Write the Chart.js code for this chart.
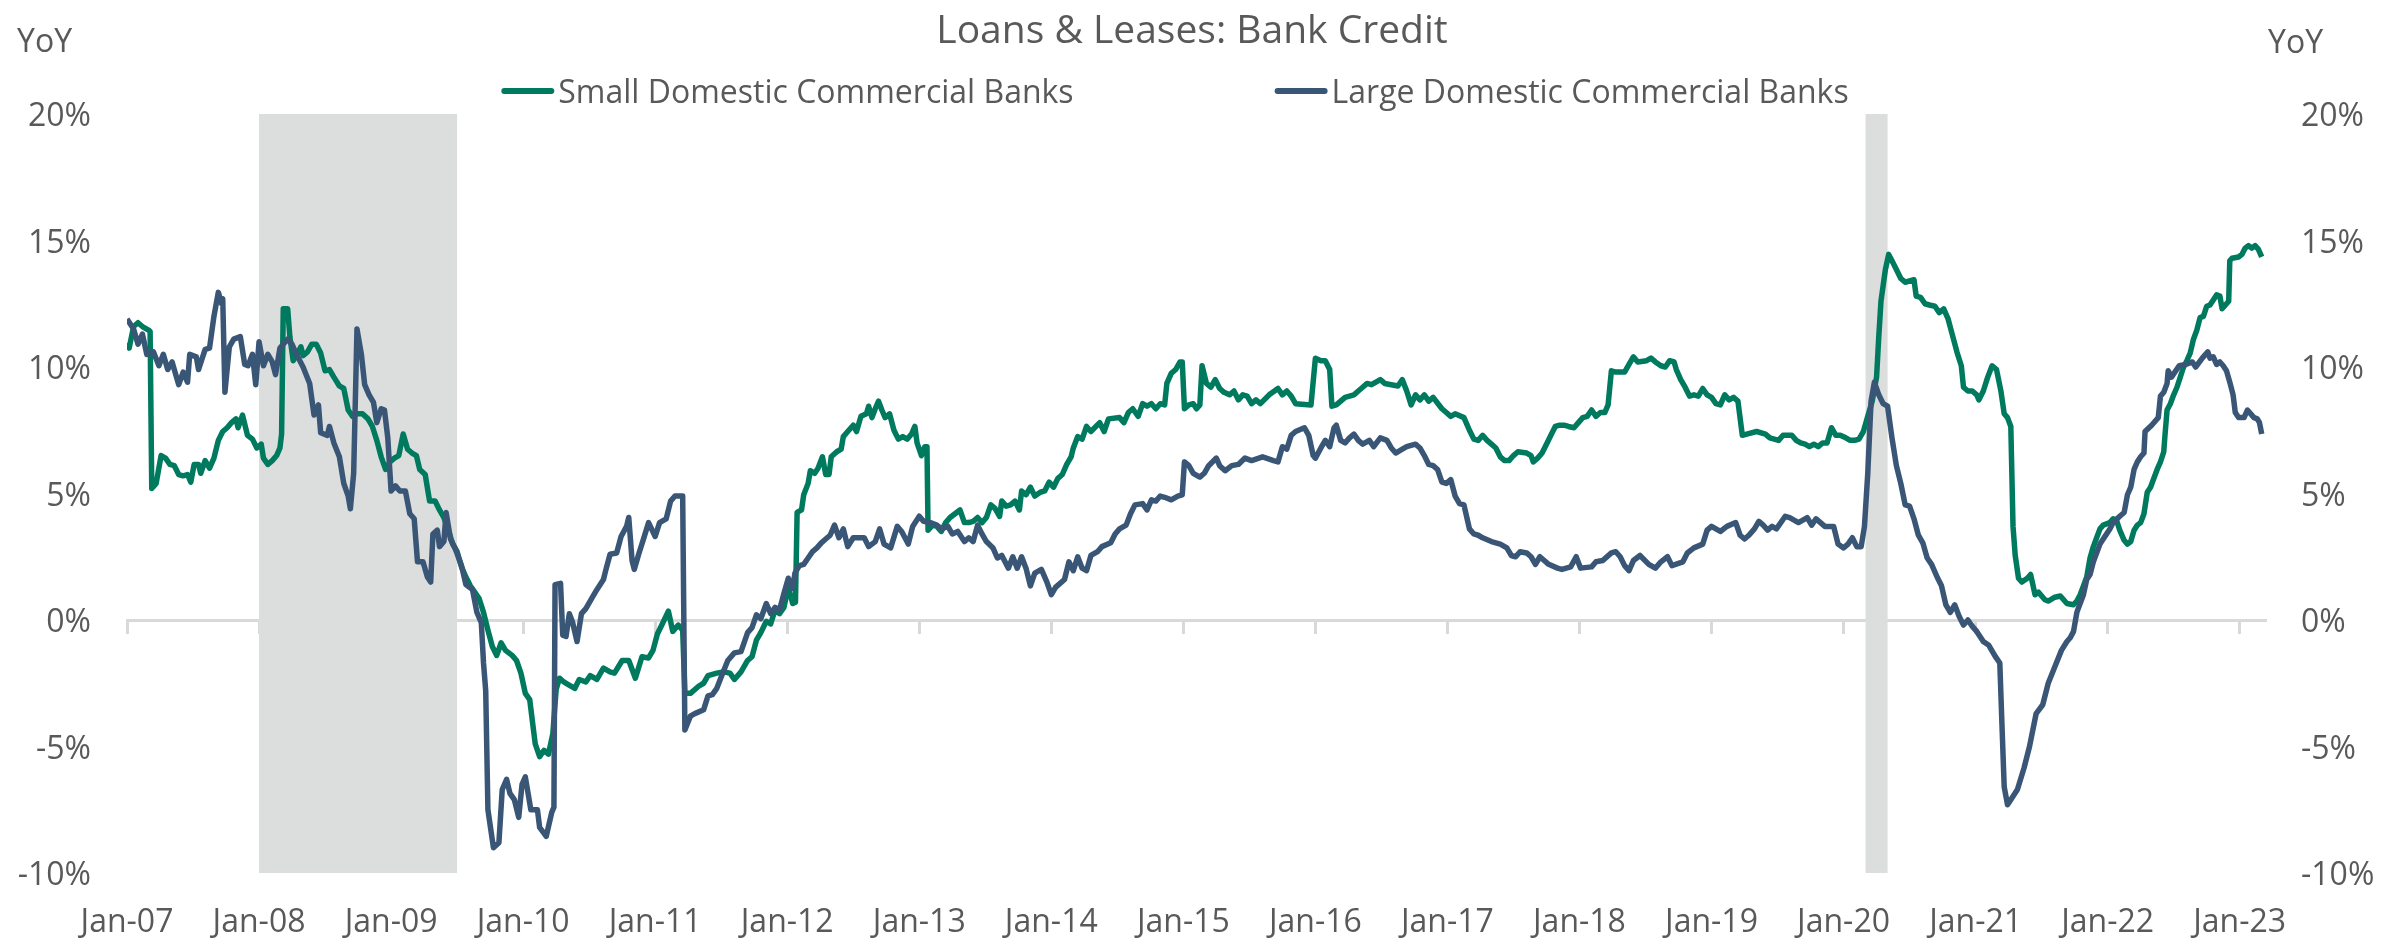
<!DOCTYPE html>
<html>
<head>
<meta charset="utf-8">
<title>Loans &amp; Leases: Bank Credit</title>
<script src="https://cdn.jsdelivr.net/npm/chart.js@4.4.0/dist/chart.umd.min.js"></script>
<style>
  html, body { margin: 0; padding: 0; background: #fff; }
  #quadro { width: 2384px; height: 940px; }
</style>
</head>
<body>
<div id="quadro"><canvas id="grafico" width="2384" height="940"></canvas></div>
<script>
// eixo x em meses desde jan/2007, valores em % a/a
var rotulosAno = ['Jan-07', 'Jan-08', 'Jan-09', 'Jan-10', 'Jan-11', 'Jan-12', 'Jan-13', 'Jan-14', 'Jan-15',
  'Jan-16', 'Jan-17', 'Jan-18', 'Jan-19', 'Jan-20', 'Jan-21', 'Jan-22', 'Jan-23'];
var mesesRotulo = [0, 12, 24, 36, 48, 60, 72, 84, 96, 108, 120, 132, 144, 156, 168, 180, 192];
var ultimoMes = 194.3;

// recessoes (inicio e fim, em meses)
var recessaoInicio = [12, 158];
var recessaoFim = [30, 160];

var bancosPequenos = [
  [0, 10.95], [0.2, 10.75], [0.6, 11.6], [1.0, 11.75], [1.4, 11.6], [2.0, 11.45], [2.1, 11.4], [2.25, 5.2], [2.65, 5.4],
  [3.1, 6.5], [3.5, 6.4], [3.9, 6.15], [4.3, 6.1], [4.7, 5.75], [5.1, 5.7], [5.5, 5.75], [5.8, 5.45], [6.1, 6.15],
  [6.5, 6.15], [6.7, 5.8], [7.1, 6.3], [7.5, 6.0], [7.9, 6.4], [8.3, 7.1], [8.7, 7.45], [9.1, 7.6], [9.5, 7.8],
  [9.9, 7.95], [10.1, 7.6], [10.5, 8.1], [10.95, 7.3], [11.4, 7.15], [11.8, 6.8], [12.2, 6.95], [12.4, 6.4], [12.8, 6.15],
  [13.2, 6.3], [13.6, 6.5], [13.9, 6.8], [14.05, 7.35], [14.2, 12.3], [14.6, 12.3], [14.8, 11.2], [15.1, 10.25],
  [15.4, 10.45], [15.8, 10.8], [16.0, 10.45], [16.4, 10.6], [16.8, 10.9], [17.2, 10.9], [17.6, 10.55], [18.0, 9.85],
  [18.4, 9.9], [18.8, 9.6], [19.3, 9.25], [19.7, 9.15], [20.1, 8.3], [20.5, 8.05], [20.9, 8.15], [21.4, 8.15],
  [21.9, 7.95], [22.3, 7.65], [22.7, 7.1], [23.1, 6.45], [23.5, 5.95], [23.9, 6.25], [24.3, 6.4], [24.7, 6.5],
  [25.1, 7.35], [25.5, 6.75], [25.9, 6.6], [26.3, 6.5], [26.6, 5.95], [27.1, 5.75], [27.5, 4.7], [28.0, 4.7],
  [28.4, 4.35], [28.8, 4.05], [29.2, 3.55], [29.6, 3.0], [30.0, 2.7], [30.4, 2.1], [30.8, 1.7], [31.2, 1.35],
  [31.6, 1.1], [32.0, 0.85], [32.4, 0.3], [32.8, -0.4], [33.2, -1.05], [33.6, -1.4], [34.0, -0.9], [34.4, -1.2],
  [35.0, -1.4], [35.4, -1.6], [35.8, -2.1], [36.2, -2.9], [36.6, -3.15], [37.1, -4.9], [37.5, -5.4], [37.9, -5.15],
  [38.3, -5.3], [38.7, -4.5], [39.0, -2.75], [39.3, -2.3], [39.7, -2.45], [40.1, -2.55], [40.7, -2.7], [41.1, -2.35],
  [41.7, -2.45], [42.1, -2.2], [42.7, -2.35], [43.3, -1.9], [43.9, -2.05], [44.3, -2.1], [45.0, -1.6], [45.6, -1.6],
  [46.2, -2.3], [46.8, -1.45], [47.4, -1.5], [47.8, -1.2], [48.2, -0.55], [48.6, -0.2], [49.2, 0.35], [49.6, -0.45],
  [50.1, -0.2], [50.5, -0.4], [50.7, -2.9], [51.2, -2.9], [52.0, -2.6], [52.4, -2.5], [52.8, -2.2], [53.6, -2.1],
  [54.2, -2.05], [54.8, -2.1], [55.2, -2.35], [55.8, -2.05], [56.4, -1.6], [56.8, -1.45], [57.2, -0.8], [57.6, -0.5],
  [58.1, -0.05], [58.5, -0.15], [58.9, 0.4], [59.3, 0.25], [59.7, 0.5], [60.1, 1.3], [60.5, 0.65], [60.75, 0.7],
  [60.9, 4.25], [61.3, 4.35], [61.5, 4.95], [61.9, 5.4], [62.1, 5.9], [62.5, 5.8], [62.8, 6.0], [63.2, 6.45],
  [63.5, 5.75], [63.8, 5.75], [64.0, 6.45], [64.5, 6.65], [64.9, 6.75], [65.1, 7.25], [65.5, 7.45], [66.0, 7.7],
  [66.3, 7.45], [66.7, 8.05], [67.2, 8.15], [67.4, 8.45], [67.7, 8.0], [68.0, 8.35], [68.3, 8.65], [68.6, 8.3],
  [68.9, 8.0], [69.3, 8.15], [69.7, 7.5], [70.1, 7.15], [70.5, 7.25], [70.9, 7.15], [71.3, 7.35], [71.6, 7.65],
  [71.8, 7.0], [72.2, 6.5], [72.5, 6.85], [72.7, 6.85], [72.8, 3.55], [73.2, 3.75], [73.6, 3.7], [74.0, 3.5],
  [74.4, 3.85], [74.8, 4.05], [75.7, 4.35], [76.1, 3.85], [76.5, 3.85], [76.9, 3.9], [77.3, 4.05], [77.7, 3.85],
  [78.1, 4.05], [78.5, 4.55], [78.9, 4.4], [79.3, 4.1], [79.5, 4.7], [79.9, 4.5], [80.3, 4.55], [80.7, 4.7],
  [81.1, 4.35], [81.3, 5.1], [81.7, 4.95], [82.1, 5.25], [82.5, 4.9], [83.0, 5.05], [83.4, 5.1], [83.8, 5.45],
  [84.2, 5.25], [84.6, 5.6], [85.0, 5.75], [85.4, 6.15], [85.8, 6.45], [86.0, 6.8], [86.4, 7.25], [86.8, 7.15],
  [87.2, 7.65], [87.6, 7.45], [88.4, 7.8], [88.8, 7.45], [89.2, 7.95], [90.2, 8.0], [90.6, 7.8], [91.0, 8.2],
  [91.4, 8.35], [91.9, 8.05], [92.3, 8.55], [92.7, 8.45], [93.1, 8.55], [93.5, 8.35], [93.9, 8.55], [94.3, 8.5],
  [94.5, 9.35], [94.9, 9.75], [95.3, 9.9], [95.7, 10.2], [95.9, 10.2], [96.1, 8.35], [96.5, 8.5], [96.9, 8.55],
  [97.2, 8.35], [97.5, 8.5], [97.7, 10.05], [98.1, 9.35], [98.5, 9.2], [98.9, 9.5], [99.3, 9.15], [99.7, 9.0],
  [100.2, 8.9], [100.6, 9.05], [101.0, 8.7], [101.4, 8.9], [101.8, 8.85], [102.2, 8.55], [102.6, 8.7], [103.0, 8.55],
  [103.8, 8.9], [104.6, 9.15], [105.0, 8.9], [105.4, 9.05], [105.8, 8.85], [106.2, 8.55], [107.6, 8.5], [108.0, 10.35],
  [108.5, 10.25], [108.9, 10.25], [109.3, 9.9], [109.5, 8.45], [109.9, 8.5], [110.7, 8.8], [111.5, 8.9], [111.9, 9.05],
  [112.3, 9.2], [112.7, 9.35], [113.1, 9.3], [113.9, 9.5], [114.3, 9.35], [115.5, 9.25], [115.9, 9.5], [116.3, 9.05],
  [116.7, 8.5], [117.1, 8.9], [117.5, 8.7], [117.9, 8.9], [118.3, 8.65], [118.7, 8.8], [119.5, 8.35], [119.9, 8.2],
  [120.3, 8.05], [120.7, 8.15], [121.5, 8.0], [122.0, 7.5], [122.4, 7.15], [122.8, 7.1], [123.2, 7.3], [123.6, 7.1],
  [124.0, 6.95], [124.4, 6.8], [124.8, 6.45], [125.2, 6.3], [125.6, 6.3], [126.0, 6.5], [126.4, 6.65], [127.2, 6.6],
  [127.6, 6.5], [127.8, 6.25], [128.2, 6.4], [128.6, 6.6], [129.0, 6.95], [129.4, 7.3], [129.8, 7.65], [130.2, 7.7],
  [130.6, 7.7], [131.0, 7.65], [131.5, 7.6], [131.9, 7.8], [132.3, 8.0], [132.7, 8.05], [133.1, 8.3], [133.5, 8.05],
  [133.9, 8.2], [134.3, 8.2], [134.6, 8.5], [134.9, 9.85], [135.3, 9.8], [136.1, 9.8], [136.5, 10.1], [136.9, 10.4],
  [137.3, 10.2], [138.1, 10.25], [138.5, 10.35], [138.9, 10.2], [139.4, 10.05], [139.8, 10.0], [140.2, 10.25],
  [140.6, 10.2], [140.8, 9.9], [141.2, 9.5], [141.6, 9.2], [142.0, 8.85], [142.4, 8.9], [142.8, 8.85], [143.2, 9.15],
  [143.6, 8.9], [144.0, 8.8], [144.4, 8.55], [144.8, 8.5], [145.2, 8.9], [145.6, 8.7], [146.0, 8.8], [146.4, 8.65],
  [146.8, 7.3], [147.2, 7.35], [148.1, 7.45], [148.9, 7.35], [149.3, 7.2], [149.7, 7.15], [150.1, 7.1], [150.5, 7.3],
  [151.3, 7.3], [151.7, 7.1], [152.1, 7.0], [152.5, 6.95], [152.9, 6.85], [153.3, 6.95], [153.7, 6.85], [154.1, 7.0],
  [154.5, 7.0], [154.9, 7.6], [155.3, 7.3], [155.7, 7.3], [156.2, 7.2], [156.6, 7.1], [157.0, 7.1], [157.4, 7.15],
  [157.8, 7.45], [158.2, 8.05], [158.6, 8.65], [159.0, 9.6], [159.2, 11.2], [159.4, 12.6], [159.8, 13.85], [160.1, 14.45],
  [160.4, 14.2], [160.8, 13.85], [161.2, 13.5], [161.6, 13.35], [162.4, 13.45], [162.6, 12.8], [163.0, 12.75],
  [163.4, 12.5], [163.8, 12.45], [164.3, 12.4], [164.7, 12.15], [165.1, 12.3], [165.5, 11.9], [165.9, 11.25],
  [166.3, 10.6], [166.7, 10.05], [166.9, 9.2], [167.3, 9.05], [167.7, 9.05], [168.1, 8.9], [168.3, 8.7], [168.7, 9.05],
  [169.1, 9.6], [169.5, 10.05], [169.9, 9.9], [170.3, 9.05], [170.6, 8.15], [170.9, 8.0], [171.2, 7.65], [171.4, 3.7],
  [171.6, 2.55], [171.9, 1.65], [172.2, 1.5], [172.7, 1.65], [173.0, 1.8], [173.4, 1.0], [173.7, 1.1], [174.3, 0.8],
  [174.6, 0.75], [175.2, 0.9], [175.7, 0.95], [176.3, 0.65], [176.9, 0.6], [177.2, 0.75], [177.5, 1.0], [177.8, 1.35],
  [178.1, 1.7], [178.4, 2.45], [178.7, 2.9], [179.0, 3.25], [179.3, 3.6], [179.6, 3.75], [180.2, 3.85], [180.5, 4.0],
  [180.8, 3.95], [181.1, 3.55], [181.5, 3.15], [181.8, 3.0], [182.1, 3.1], [182.4, 3.55], [182.7, 3.75], [183.0, 3.85],
  [183.3, 4.2], [183.6, 5.05], [183.9, 5.25], [184.2, 5.6], [184.5, 5.95], [184.8, 6.25], [185.1, 6.65], [185.2, 7.25],
  [185.4, 8.3], [185.7, 8.55], [186.0, 8.9], [186.3, 9.2], [186.6, 9.6], [186.9, 10.0], [187.2, 10.25], [187.5, 10.55],
  [187.8, 11.1], [188.1, 11.45], [188.4, 11.95], [188.7, 12.0], [189.0, 12.4], [189.3, 12.45], [189.6, 12.65],
  [189.9, 12.85], [190.2, 12.8], [190.4, 12.3], [190.7, 12.45], [191.0, 12.6], [191.1, 14.2], [191.3, 14.3],
  [191.9, 14.35], [192.2, 14.45], [192.5, 14.7], [192.8, 14.8], [193.1, 14.7], [193.4, 14.8], [193.7, 14.65], [194.0, 14.35]
];

var bancosGrandes = [
  [0, 11.9], [0.6, 11.5], [1.0, 10.9], [1.4, 11.3], [1.8, 10.5], [2.4, 10.6], [2.9, 10.05], [3.3, 10.5], [3.7, 9.9],
  [4.1, 10.2], [4.7, 9.3], [5.1, 9.8], [5.5, 9.4], [5.7, 10.5], [6.3, 10.4], [6.5, 9.9], [7.1, 10.7], [7.5, 10.75],
  [7.9, 12.0], [8.3, 12.95], [8.6, 12.5], [8.7, 12.7], [8.9, 9.0], [9.3, 10.8], [9.7, 11.1], [10.3, 11.2], [10.7, 10.1],
  [11.0, 10.05], [11.4, 10.5], [11.7, 9.3], [12.0, 11.0], [12.4, 10.05], [12.8, 10.5], [13.2, 10.2], [13.5, 9.7],
  [13.9, 10.75], [14.6, 11.1], [15.0, 10.9], [15.4, 10.5], [16.0, 10.0], [16.6, 9.35], [17.0, 8.1], [17.4, 8.5],
  [17.6, 7.4], [18.2, 7.3], [18.4, 7.65], [18.8, 7.0], [19.3, 6.45], [19.7, 5.4], [20.1, 4.9], [20.3, 4.4], [20.6, 5.8],
  [20.9, 11.5], [21.3, 10.5], [21.6, 9.3], [22.0, 8.9], [22.4, 8.6], [22.7, 7.8], [23.1, 8.35], [23.4, 8.3], [23.7, 7.2],
  [24.0, 5.1], [24.4, 5.3], [24.8, 5.1], [25.3, 5.1], [25.7, 4.2], [26.1, 4.0], [26.4, 2.3], [26.9, 2.3], [27.3, 1.7],
  [27.6, 1.5], [27.8, 3.4], [28.2, 3.55], [28.4, 2.9], [28.8, 3.1], [29.0, 4.25], [29.4, 3.2], [29.8, 2.85], [30.4, 2.15],
  [30.8, 1.4], [31.4, 1.2], [31.8, 0.3], [32.2, -0.1], [32.4, -1.7], [32.6, -2.8], [32.8, -7.5], [33.3, -9.0],
  [33.8, -8.8], [34.1, -6.7], [34.5, -6.3], [34.8, -6.85], [35.2, -7.1], [35.6, -7.8], [35.9, -6.5], [36.2, -6.2],
  [36.7, -7.5], [37.3, -7.5], [37.5, -8.2], [38.1, -8.55], [38.6, -7.6], [38.8, -7.4], [38.9, 1.4], [39.4, 1.45],
  [39.6, -0.6], [39.9, -0.65], [40.2, 0.25], [40.5, -0.1], [40.9, -0.85], [41.3, 0.25], [41.7, 0.45], [42.3, 0.9],
  [42.7, 1.2], [43.3, 1.6], [43.5, 1.95], [43.9, 2.6], [44.5, 2.65], [44.9, 3.3], [45.4, 3.7], [45.6, 4.05], [45.9, 2.35],
  [46.1, 2.0], [46.5, 2.6], [46.9, 3.15], [47.4, 3.85], [48.0, 3.3], [48.4, 3.85], [49.0, 4.0], [49.4, 4.7], [49.8, 4.9],
  [50.5, 4.9], [50.7, -4.35], [51.2, -3.8], [51.6, -3.7], [52.4, -3.55], [52.8, -3.0], [53.2, -2.95], [53.6, -2.7],
  [54.0, -2.25], [54.6, -1.6], [55.2, -1.3], [55.8, -1.25], [56.4, -0.5], [56.8, -0.3], [57.2, 0.2], [57.6, 0.05],
  [58.1, 0.65], [58.5, 0.25], [58.9, 0.5], [59.3, 0.4], [59.7, 1.05], [60.1, 1.65], [60.5, 1.25], [60.7, 1.85],
  [61.1, 2.15], [61.5, 2.2], [61.9, 2.45], [62.3, 2.7], [62.7, 2.85], [63.1, 3.05], [63.5, 3.2], [63.9, 3.35],
  [64.3, 3.75], [64.7, 3.25], [65.1, 3.6], [65.5, 2.9], [66.0, 3.25], [67.0, 3.25], [67.4, 2.9], [68.0, 3.1], [68.4, 3.6],
  [68.8, 3.0], [69.4, 2.85], [70.0, 3.7], [70.4, 3.5], [71.0, 3.0], [71.4, 3.7], [72.0, 4.1], [72.4, 3.9], [73.0, 3.85],
  [73.6, 3.75], [74.0, 3.6], [74.6, 3.7], [75.0, 3.4], [75.5, 3.5], [76.1, 3.1], [76.5, 3.25], [76.9, 3.1], [77.3, 3.75],
  [77.7, 3.4], [78.1, 3.1], [78.7, 2.85], [79.1, 2.45], [79.5, 2.55], [80.1, 2.05], [80.5, 2.5], [80.9, 2.05], [81.3, 2.5],
  [81.7, 2.05], [82.1, 1.35], [82.5, 1.85], [83.1, 2.0], [83.6, 1.5], [84.0, 1.0], [84.4, 1.3], [84.8, 1.45], [85.2, 1.6],
  [85.6, 2.3], [86.0, 1.95], [86.4, 2.5], [86.8, 2.05], [87.2, 1.95], [87.6, 2.55], [88.2, 2.7], [88.6, 2.9], [89.4, 3.05],
  [89.8, 3.4], [90.2, 3.6], [90.8, 3.75], [91.2, 4.2], [91.6, 4.55], [92.3, 4.6], [92.7, 4.35], [93.1, 4.75], [93.5, 4.7],
  [93.9, 4.9], [94.3, 4.85], [94.9, 4.75], [95.5, 4.9], [95.9, 4.95], [96.1, 6.25], [96.5, 6.1], [96.9, 5.8], [97.5, 5.65],
  [97.9, 5.8], [98.3, 6.1], [99.0, 6.4], [99.3, 6.1], [99.8, 5.9], [100.4, 6.1], [101.0, 6.15], [101.6, 6.4], [102.2, 6.3],
  [103.2, 6.45], [104.2, 6.3], [104.6, 6.25], [105.0, 6.85], [105.4, 6.75], [105.8, 7.3], [106.2, 7.45], [107.0, 7.6],
  [107.4, 7.3], [107.8, 6.5], [108.0, 6.4], [108.5, 6.8], [108.9, 7.1], [109.3, 6.85], [109.7, 7.6], [109.9, 7.7],
  [110.3, 7.1], [110.7, 7.0], [111.1, 7.2], [111.5, 7.35], [111.9, 7.1], [112.3, 6.95], [112.9, 7.1], [113.3, 6.85],
  [113.9, 7.2], [114.5, 7.1], [114.9, 6.8], [115.3, 6.6], [115.9, 6.75], [116.3, 6.85], [117.1, 6.95], [117.5, 6.8],
  [117.9, 6.5], [118.3, 6.15], [118.7, 6.1], [119.1, 5.95], [119.5, 5.45], [119.9, 5.4], [120.3, 5.55], [120.7, 4.9],
  [121.1, 4.6], [121.5, 4.55], [122.0, 3.6], [122.4, 3.4], [122.8, 3.35], [123.2, 3.25], [124.0, 3.1], [124.8, 3.0],
  [125.4, 2.85], [125.8, 2.55], [126.2, 2.5], [126.6, 2.7], [127.2, 2.65], [127.6, 2.5], [128.0, 2.2], [128.4, 2.5],
  [129.2, 2.2], [130.0, 2.05], [130.4, 2.0], [131.2, 2.1], [131.7, 2.5], [132.1, 2.05], [133.1, 2.1], [133.5, 2.3],
  [134.1, 2.35], [134.9, 2.65], [135.3, 2.7], [135.7, 2.5], [136.1, 2.15], [136.5, 1.95], [136.9, 2.35], [137.5, 2.55],
  [138.3, 2.2], [138.9, 2.05], [139.4, 2.3], [140.0, 2.5], [140.4, 2.15], [141.4, 2.3], [141.8, 2.65], [142.4, 2.85],
  [143.2, 3.0], [143.6, 3.55], [144.0, 3.7], [144.8, 3.5], [145.4, 3.7], [146.2, 3.85], [146.6, 3.35], [147.0, 3.2],
  [147.4, 3.35], [147.9, 3.6], [148.3, 3.9], [148.7, 3.75], [149.1, 3.55], [149.5, 3.7], [149.9, 3.6], [150.7, 4.1],
  [151.1, 4.05], [151.9, 3.85], [152.7, 4.05], [153.1, 3.75], [153.5, 4.0], [154.3, 3.7], [155.1, 3.7], [155.5, 3.0],
  [156.0, 2.85], [156.4, 3.0], [156.8, 3.25], [157.2, 2.9], [157.6, 2.9], [157.9, 3.7], [158.2, 5.8], [158.5, 8.65],
  [158.8, 9.4], [159.2, 8.9], [159.6, 8.55], [160.0, 8.45], [160.4, 7.2], [160.8, 6.1], [161.2, 5.4], [161.6, 4.55],
  [162.0, 4.5], [162.4, 4.0], [162.8, 3.35], [163.2, 3.05], [163.6, 2.45], [164.0, 2.2], [164.5, 1.7], [164.9, 1.35],
  [165.3, 0.6], [165.7, 0.3], [166.1, 0.6], [166.5, 0.15], [166.9, -0.2], [167.3, 0.0], [167.7, -0.25], [168.1, -0.45],
  [168.7, -0.85], [169.2, -1.0], [169.8, -1.45], [170.2, -1.7], [170.4, -4.2], [170.6, -6.6], [170.9, -7.3], [171.2, -7.1],
  [171.8, -6.7], [172.4, -5.85], [172.9, -5.0], [173.5, -3.7], [174.1, -3.35], [174.6, -2.5], [175.2, -1.85], [175.8, -1.2],
  [176.3, -0.85], [176.6, -0.7], [176.9, -0.45], [177.2, 0.3], [177.5, 0.65], [177.8, 1.0], [178.1, 1.6], [178.4, 1.8],
  [178.7, 2.3], [179.0, 2.65], [179.3, 3.0], [179.6, 3.2], [179.9, 3.4], [180.2, 3.6], [180.5, 3.85], [181.1, 4.1],
  [181.5, 4.25], [181.8, 4.95], [182.1, 5.25], [182.4, 5.95], [182.7, 6.25], [183.0, 6.45], [183.3, 6.6], [183.4, 7.45],
  [184.0, 7.7], [184.6, 8.0], [184.8, 8.85], [185.1, 9.0], [185.4, 9.35], [185.5, 9.85], [185.8, 9.6], [186.5, 10.05],
  [187.1, 10.1], [187.7, 10.2], [188.0, 10.0], [188.6, 10.35], [189.1, 10.6], [189.3, 10.35], [189.6, 10.4], [189.9, 10.1],
  [190.2, 10.2], [190.5, 10.05], [190.8, 9.85], [191.1, 9.4], [191.4, 8.9], [191.6, 8.2], [191.9, 8.0], [192.4, 8.0],
  [192.7, 8.3], [193.3, 8.0], [193.6, 7.95], [193.8, 7.8], [194.0, 7.35]
];

var corTexto = '#595959';
var corVerde = '#007A5E';
var corAzul = '#3A5676';

Chart.defaults.font.family = '"Open Sans", sans-serif';
Chart.defaults.color = corTexto;

function marcarAnos(escala) {
  escala.ticks = mesesRotulo.map(function (m) { return { value: m }; });
}

// faixas cinzas das recessoes, atras das linhas
var sombraRecessao = {
  id: 'sombraRecessao',
  beforeDatasetsDraw: function (chart) {
    var ctx = chart.ctx;
    var ex = chart.scales.x;
    var ey = chart.scales.y;
    var topo = ey.getPixelForValue(ey.max);
    var base = ey.getPixelForValue(ey.min);
    ctx.save();
    ctx.fillStyle = 'rgb(220, 221, 221)';
    for (var i = 0; i < recessaoInicio.length; i++) {
      var x1 = ex.getPixelForValue(recessaoInicio[i]);
      var x2 = ex.getPixelForValue(recessaoFim[i]);
      ctx.fillRect(x1, topo, x2 - x1, base - topo);
    }
    ctx.restore();
  }
};

// legenda e os "YoY" em cima dos eixos
var cabecalho = {
  id: 'cabecalho',
  afterDraw: function (chart) {
    var ctx = chart.ctx;
    var area = chart.chartArea;
    ctx.save();
    ctx.font = '32px "Open Sans"';
    ctx.fillStyle = corTexto;
    ctx.textBaseline = 'middle';
    ctx.textAlign = 'left';
    ctx.fillText('YoY', chart.scales.y.left + 17, 43);
    ctx.fillText('YoY', chart.scales.y2.left + 3, 44);

    var conjuntos = chart.data.datasets;
    var traco = 53, folga = 4, espaco = 201;
    var larguras = conjuntos.map(function (d) { return traco + folga + ctx.measureText(d.label).width; });
    var total = espaco * (conjuntos.length - 1);
    larguras.forEach(function (l) { total += l; });
    var x = chart.width / 2 - 17 - total / 2;
    var yLeg = area.top - 23;
    conjuntos.forEach(function (d, i) {
      ctx.strokeStyle = d.borderColor;
      ctx.lineWidth = 6;
      ctx.lineCap = 'round';
      ctx.beginPath();
      ctx.moveTo(x + 3, yLeg);
      ctx.lineTo(x + traco - 3, yLeg);
      ctx.stroke();
      ctx.fillText(d.label, x + traco + folga, yLeg + 3);
      x += larguras[i] + espaco;
    });
    ctx.restore();
  }
};

var grafico = new Chart(document.getElementById('grafico'), {
  type: 'line',
  data: {
    datasets: [{
      label: 'Small Domestic Commercial Banks',
      data: bancosPequenos,
      borderColor: corVerde,
      backgroundColor: corVerde,
      borderWidth: 5.5,
      pointRadius: 0,
      tension: 0,
      borderJoinStyle: 'round',
      xAxisID: 'x',
      yAxisID: 'y',
      order: 2
    }, {
      label: 'Large Domestic Commercial Banks',
      data: bancosGrandes,
      borderColor: corAzul,
      backgroundColor: corAzul,
      borderWidth: 5.5,
      pointRadius: 0,
      tension: 0,
      borderJoinStyle: 'round',
      xAxisID: 'x',
      yAxisID: 'y',
      order: 1
    }]
  },
  options: {
    responsive: false,
    devicePixelRatio: 1,
    animation: false,
    events: [],
    layout: { padding: 0 },
    plugins: {
      legend: { display: false },
      tooltip: { enabled: false },
      title: {
        display: true,
        text: 'Loans & Leases: Bank Credit',
        color: corTexto,
        font: { size: 39, weight: 'normal' },
        padding: { top: 8, bottom: 59.2 }
      }
    },
    scales: {
      x: {
        type: 'linear',
        position: 'bottom',
        min: 0,
        max: ultimoMes,
        afterBuildTicks: marcarAnos,
        grid: { display: false, drawTicks: false },
        border: { display: false },
        ticks: {
          padding: 31,
          autoSkip: false,
          maxRotation: 0,
          font: { size: 32 },
          color: corTexto,
          callback: function (v) { return rotulosAno[mesesRotulo.indexOf(v)]; }
        },
        afterFit: function (escala) { escala.height = 67; }
      },
      eixoZero: {
        type: 'linear',
        axis: 'x',
        position: { y: 0 },
        min: 0,
        max: ultimoMes,
        afterBuildTicks: marcarAnos,
        ticks: { display: false },
        grid: { drawOnChartArea: false, drawTicks: true, tickLength: 12, color: '#d9d9d9', lineWidth: 3 },
        border: { display: true, color: '#d9d9d9', width: 3 },
        afterFit: function (escala) { escala.height = 0; }
      },
      y: {
        position: 'left',
        min: -10,
        max: 20,
        grid: { display: false, drawTicks: false },
        border: { display: false },
        ticks: {
          stepSize: 5,
          padding: 36,
          labelOffset: 3,
          font: { size: 32 },
          color: corTexto,
          callback: function (v) { return v + '%'; }
        },
        afterFit: function (escala) { escala.width = 127; }
      },
      y2: {
        position: 'right',
        min: -10,
        max: 20,
        grid: { display: false, drawTicks: false },
        border: { display: false },
        ticks: {
          stepSize: 5,
          padding: 36,
          labelOffset: 3,
          font: { size: 32 },
          color: corTexto,
          callback: function (v) { return v + '%'; }
        },
        afterFit: function (escala) { escala.width = 119; }
      }
    }
  },
  plugins: [sombraRecessao, cabecalho]
});
</script>
</body>
</html>
